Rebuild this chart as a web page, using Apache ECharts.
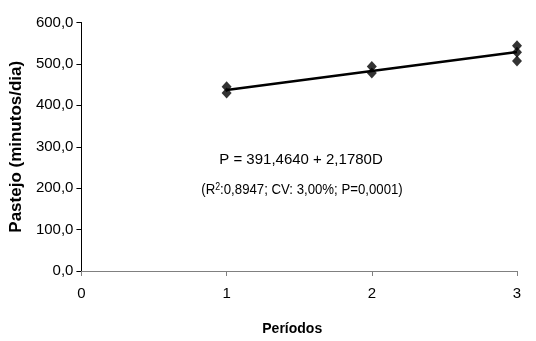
<!DOCTYPE html>
<html><head><meta charset="utf-8">
<script src="https://cdn.jsdelivr.net/npm/echarts@6/dist/echarts.min.js"></script>
<style>html,body{margin:0;padding:0;background:#fff}#c{width:536px;height:341px}</style>
</head><body><div id="c"></div>
<script>
var periods = [1, 1, 2, 2, 3, 3, 3];
var pastejo = [445, 430, 494, 478, 544, 528, 507];
var trendPeriods = [1, 2, 3];
var trendValues = [437.2, 483.0, 528.7];
var yTicks = [0, 100, 200, 300, 400, 500, 600];
var xTicks = [0, 1, 2, 3];
var equation = 'P = 391,4640 + 2,1780D';
var statsText = '(R{sup|2}:0,8947; CV: 3,00%; P=0,0001)';

var chart = echarts.init(document.getElementById('c'), null, {renderer: 'canvas'});
var font = 'Liberation Sans, Arial, sans-serif';
chart.setOption({
  animation: false,
  grid: {left: 80, right: 19, top: 22.5, bottom: 68},
  xAxis: {
    type: 'value', min: xTicks[0], max: xTicks[xTicks.length-1], interval: 1,
    axisLine: {show: true, lineStyle: {color: '#808080', width: 1}},
    axisTick: {show: true, length: 5, lineStyle: {color: '#808080'}},
    splitLine: {show: false},
    axisLabel: {fontFamily: font, fontSize: 15, color: '#000', margin: 15},
    name: 'Períodos', nameLocation: 'middle', nameGap: 51,
    nameTextStyle: {fontFamily: font, fontSize: 14, fontWeight: 'bold', color: '#000', padding: [0, 14, 0, 0]}
  },
  yAxis: {
    type: 'value', min: yTicks[0], max: yTicks[yTicks.length-1], interval: 100,
    axisLine: {show: true, lineStyle: {color: '#000', width: 1}},
    axisTick: {show: true, length: 5, lineStyle: {color: '#000'}},
    splitLine: {show: false},
    axisLabel: {fontFamily: font, fontSize: 15, color: '#000', margin: 8,
      formatter: function(v){ return v.toFixed(1).replace('.', ','); }},
    name: 'Pastejo (minutos/dia)', nameLocation: 'middle', nameGap: 43, nameRotate: 90,
    nameTextStyle: {fontFamily: font, fontSize: 17, fontWeight: 'bold', color: '#000'}
  },
  series: [
    {type: 'line', data: trendPeriods.map(function(p,i){return [p, trendValues[i]];}),
     symbol: 'none', lineStyle: {color: '#000', width: 2.5}, z: 2},
    {type: 'scatter', data: periods.map(function(p,i){return [p, pastejo[i]];}),
     symbol: 'diamond', symbolSize: [10, 11], itemStyle: {color: '#000'}, z: 3}
  ],
  graphic: [
    {type: 'text', x: 301, y: 160, style: {text: equation, font: '15px ' + font, fill: '#000', align: 'center', verticalAlign: 'middle'}},
    {type: 'text', x: 302, y: 190, scaleX: 0.88, style: {text: statsText, font: '15px ' + font, fill: '#000', align: 'center', verticalAlign: 'middle',
      rich: {sup: {fontSize: 10, verticalAlign: 'top', padding: [0, 0, 6, 0]}}}}
  ]
});
</script></body></html>
